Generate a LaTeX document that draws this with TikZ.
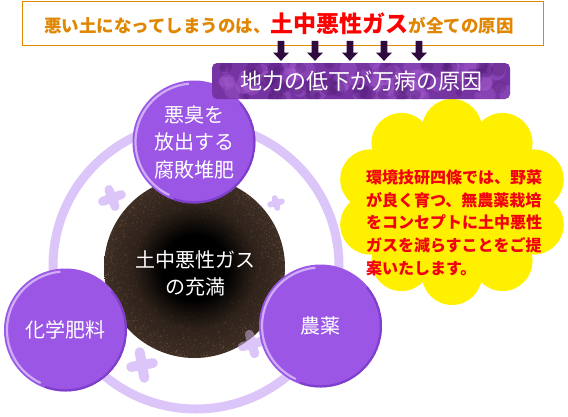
\documentclass[tikz,border=0pt]{standalone}
\usepackage{fontspec}
\setmainfont{Noto Sans CJK JP}
\usetikzlibrary{shapes.geometric,arrows.meta,calc}
\definecolor{boxorange}{HTML}{E08A00}
\definecolor{txtorange}{HTML}{E08600}
\definecolor{gasred}{HTML}{FF0000}
\definecolor{arrowc}{HTML}{2E0A3E}
\definecolor{bannerc}{HTML}{7633A2}
\definecolor{bannerlight}{HTML}{A85FD3}
\definecolor{bannerdark}{HTML}{4E1C72}
\definecolor{purp}{HTML}{9B56E6}
\definecolor{purplight}{HTML}{CFAEF8}
\definecolor{purpdark}{HTML}{7338C2}
\definecolor{ringc}{HTML}{DCC6F9}
\definecolor{soilmid}{HTML}{2E221A}
\definecolor{soilout}{HTML}{3E2E24}
\definecolor{soilspeck}{HTML}{5E4A3C}
\definecolor{soilspeckb}{HTML}{7A6453}
\definecolor{flower}{HTML}{FFF000}
\definecolor{flowertxt}{HTML}{F20010}
\pgfdeclareradialshading{soilshade}{\pgfpoint{0bp}{0bp}}{color(0bp)=(black); color(9bp)=(black); color(17bp)=(soilmid); color(25bp)=(soilout); color(50bp)=(soilout)}
\begin{document}
\begin{tikzpicture}[x=1pt,y=-1pt,
  pcirc/.style={circle, fill=purp, minimum size=123pt, inner sep=0pt, text=white, align=center,
    font=\fontsize{20}{27.5}\selectfont,
    path picture={
      \coordinate (pc) at (path picture bounding box.center);
      \draw[purplight, line width=2.2pt] ($(pc)+(95:58.5pt)$) arc[start angle=95, end angle=245, radius=58.5pt];
      \draw[purpdark, line width=2.5pt, opacity=0.7] ($(pc)+(250:60.5pt)$) arc[start angle=250, end angle=400, radius=60.5pt];
    }},
  blobst/.style={draw=ringc, line cap=round},
]
\useasboundingbox (0,0) rectangle (568,416);

% yellow flower
\coordinate (fc) at (452,202);
\fill[flower] (fc) ellipse[x radius=86, y radius=76];
\foreach \a in {90,126,...,414}{
  \fill[flower] ({452+86*cos(\a)},{202-73*sin(\a)}) circle[radius=30];
}

% ring
\coordinate (ctr) at (196,266);
\draw[ringc, line width=9pt] (ctr) circle[radius=143];

% blobs
\begin{scope}[shift={(112,198)}, rotate=20]
  \draw[blobst, line width=9pt] (-10,0) -- (10,0) (0,-9) -- (0,9);
  \fill[ringc] (0,0) circle[radius=7];
\end{scope}
\begin{scope}[shift={(276,203)}, rotate=15]
  \draw[blobst, line width=6pt] (-6,0) -- (6,0) (0,-5) -- (0,5);
  \fill[ringc] (0,0) circle[radius=4.5];
\end{scope}
\begin{scope}[shift={(142,365)}, rotate=10]
  \draw[blobst, line width=10pt] (-11,0) -- (11,0) (0,-13) -- (0,13);
  \fill[ringc] (0,0) circle[radius=7.5];
\end{scope}
\begin{scope}[shift={(252,344)}, rotate=15]
  \draw[blobst, line width=9pt] (-10,0) -- (10,0) (0,-10) -- (0,10);
  \fill[ringc] (0,0) circle[radius=7];
\end{scope}

% soil
\node[circle, minimum size=181pt, inner sep=0pt, shade, shading=soilshade,
  path picture={
    \pgfmathsetseed{11}
    \foreach \i in {1,...,1700}{
      \pgfmathsetmacro\ang{rnd*360}
      \pgfmathsetmacro\rad{0.4+0.6*sqrt(rnd)}
      \pgfmathsetmacro\sz{0.3+rnd*0.55}
      \pgfmathsetmacro\mixp{rnd*100}
      \pgfmathsetmacro\op{0.05+0.6*\rad*\rad*\rad}
      \pgfmathsetmacro\dx{90.5*\rad*cos(\ang)}
      \pgfmathsetmacro\dy{90.5*\rad*sin(\ang)}
      \fill[soilspeck!\mixp!soilspeckb, opacity=\op] ($(path picture bounding box.center)+(\dx pt,\dy pt)$) circle[radius=\sz pt];
    }
  }] (soil) at (194.5,267.5) {};
\node[text=white, align=center, font=\fontsize{20}{27.5}\selectfont, inner sep=0pt] (soiltext) at (195,273.5) {土中悪性ガス\\の充満};

% blob tint over the soil edge
\begin{scope}[shift={(252,344)}, rotate=15, opacity=0.45]
  \draw[blobst, line width=9pt] (-10,0) -- (10,0) (0,-10) -- (0,10);
\end{scope}

% purple circles
\node[pcirc] (compost) at (194,142) {悪臭を\\放出する\\腐敗堆肥};
\node[pcirc] (fert) at (65.5,330) {化学肥料};
\node[pcirc] (pest) at (320.5,326) {農薬};

% top box
\node[draw=boxorange, line width=1.2pt, fill=white, minimum width=521pt, minimum height=43.5pt, inner sep=0pt] (topbox) at (282.7,23.4) {};
\node[anchor=base, inner sep=0pt, font=\bfseries\fontsize{17.5}{20}\selectfont] (toptext) at (279,32)
  {\textcolor{txtorange}{悪い土になってしまうのは、}\textcolor{gasred}{\fontsize{23}{26}\selectfont 土中悪性ガス}\textcolor{txtorange}{が全ての原因}};

% banner
\node[rounded corners=5pt, fill=bannerc, minimum width=298pt, minimum height=36pt, inner sep=0pt,
  text=white, font=\fontsize{22}{24}\selectfont,
  path picture={
    \pgfmathsetseed{5}
    \foreach \i in {1,...,70}{
      \pgfmathsetmacro\rx{rnd*300}
      \pgfmathsetmacro\ry{rnd*36}
      \pgfmathsetmacro\rr{3+rnd*7}
      \fill[bannerlight, opacity=0.35] ($(path picture bounding box.north west)+(\rx pt,-\ry pt)$) circle[radius=\rr pt];
    }
    \foreach \i in {1,...,50}{
      \pgfmathsetmacro\rx{rnd*300}
      \pgfmathsetmacro\ry{rnd*36}
      \pgfmathsetmacro\rr{3+rnd*6}
      \fill[bannerdark, opacity=0.35] ($(path picture bounding box.north west)+(\rx pt,-\ry pt)$) circle[radius=\rr pt];
    }
  }] (banner) at (361,81) {地力の低下が万病の原因};

% arrows from the top box to the banner
\foreach \x in {281,315,350,384,419}{
  \coordinate (ax) at (\x,0);
  \coordinate (at) at (topbox.south -| ax);
  \coordinate (ab) at (banner.north -| ax);
  \fill[arrowc] ($(at)+(-3.3,-5)$) -- ($(at)+(3.3,-5)$) -- ($(at)+(3.3,6.8)$) -- ($(at)+(8,6.8)$)
     -- ($(ab)+(0,-2)$) -- ($(at)+(-8,6.8)$) -- ($(at)+(-3.3,6.8)$) -- cycle;
}

% flower text
\node[inner sep=0pt, align=left, text=flowertxt, font=\bfseries\fontsize{16}{22.75}\selectfont] (msg) at (454,222.8)
  {環境技研四條では、野菜\\が良く育つ、無農薬栽培\\をコンセプトに土中悪性\\ガスを減らすことをご提\\案いたします。};
\end{tikzpicture}
\end{document}
